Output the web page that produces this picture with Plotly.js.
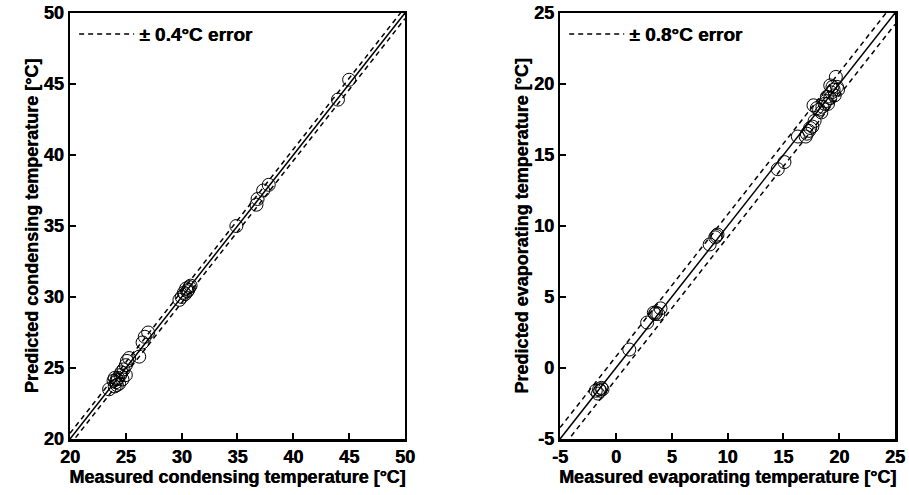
<!DOCTYPE html>
<html>
<head>
<meta charset="utf-8">
<script src="https://cdn.plot.ly/plotly-3.0.1.min.js"></script>
<style>html,body{margin:0;padding:0;background:#fff;}#chart{width:909px;height:495px;}</style>
</head>
<body>
<div id="chart"></div>
<script>
// Condensing temperature data [°C]
const condMeasured = [45.0, 44.0, 37.8, 37.3, 36.8, 36.7, 34.9,
  30.8, 30.6, 30.4, 30.2, 30.0, 29.8, 30.5, 30.7, 30.3,
  27.0, 26.7, 26.5, 26.2,
  25.3, 25.1, 25.0, 24.8, 24.6, 24.5, 24.3, 24.2, 24.1, 24.0, 23.9, 24.4, 24.2, 25.0, 24.7, 23.5, 24.0];
const condPredicted = [45.3, 43.9, 37.9, 37.5, 36.9, 36.5, 35.0,
  30.8, 30.5, 30.6, 30.3, 30.0, 29.8, 30.4, 30.7, 30.2,
  27.5, 27.2, 26.8, 25.8,
  25.7, 25.5, 25.2, 24.9, 24.7, 24.5, 24.3, 24.2, 24.0, 24.3, 24.1, 23.9, 23.8, 24.5, 24.2, 23.5, 23.7];
const condError = 0.4;
const condRange = [20, 50];

// Evaporating temperature data [°C]
const evapMeasured = [-1.5, -1.3, -1.6, -1.8, -1.4, -1.2,
  1.2,
  2.8, 3.5, 3.6, 3.4, 3.8, 4.0,
  8.4, 8.9, 9.1, 9.0,
  14.5, 15.1,
  16.3, 17.0, 17.1, 17.3, 17.4, 17.6, 17.8, 17.7, 18.2, 18.4, 18.5, 18.7, 18.8, 19.0, 19.2, 19.3, 19.5, 19.4, 19.6, 19.8, 19.7, 19.2, 19.9, 18.0, 18.9];
const evapPredicted = [-1.5, -1.4, -1.8, -1.6, -1.6, -1.5,
  1.3,
  3.2, 3.8, 3.9, 3.9, 3.8, 4.2,
  8.7, 9.2, 9.4, 9.3,
  14.0, 14.5,
  16.3, 16.3, 16.5, 16.7, 16.9, 17.0, 17.4, 18.5, 18.2, 18.0, 18.4, 18.6, 18.8, 18.6, 19.0, 19.4, 19.6, 19.8, 19.2, 19.8, 20.5, 19.9, 19.6, 18.3, 19.1];
const evapError = 0.8;
const evapRange = [-5, 25];

const tickVals1 = [20, 25, 30, 35, 40, 45, 50];
const tickText1 = ['20', '25', '30', '35', '40', '45', '50'];
const tickVals2 = [-5, 0, 5, 10, 15, 20, 25];
const tickText2 = ['-5', '0', '5', '10', '15', '20', '25'];

const FONT = "Liberation Sans, Arial, sans-serif";
const SHADOW = '0.5px 0 0 #000';
const marker = {symbol: 'circle-open', size: 13, color: '#000', line: {width: 1, color: '#000'}};
const b = s => '<b>' + s + '</b>';

function lines(range, err, xa, ya, leg) {
  return [
    {x: range, y: range, mode: 'lines', line: {color: '#000', width: 1.5}, xaxis: xa, yaxis: ya, showlegend: false, hoverinfo: 'skip'},
    {x: range, y: [range[0] + err, range[1] + err], mode: 'lines', line: {color: '#000', width: 1.5, dash: '5px,4px'}, xaxis: xa, yaxis: ya, name: b('± ' + err + '°C error'), showlegend: true, legend: leg, hoverinfo: 'skip'},
    {x: range, y: [range[0] - err, range[1] - err], mode: 'lines', line: {color: '#000', width: 1.5, dash: '5px,4px'}, xaxis: xa, yaxis: ya, showlegend: false, hoverinfo: 'skip'}
  ];
}

const data = [
  ...lines(condRange, condError, 'x', 'y', 'legend'),
  {x: condMeasured, y: condPredicted, mode: 'markers', marker: marker, xaxis: 'x', yaxis: 'y', showlegend: false},
  ...lines(evapRange, evapError, 'x2', 'y2', 'legend2'),
  {x: evapMeasured, y: evapPredicted, mode: 'markers', marker: marker, xaxis: 'x2', yaxis: 'y2', showlegend: false}
];

const tickFont = {family: FONT, size: 18, color: '#000', shadow: SHADOW};
const titleFont = {family: FONT, size: 18, color: '#000', shadow: SHADOW};
const legendFont = {family: FONT, size: 19, color: '#000', shadow: SHADOW};

function axis(range, ticks, labels, title, domain, anchor, standoff) {
  return {
    range: range, domain: domain, anchor: anchor,
    tickmode: 'array', tickvals: ticks, ticktext: labels.map(b),
    ticks: 'inside', ticklen: 6, tickwidth: 2, tickcolor: '#000',
    showline: true, linewidth: 2.5, linecolor: '#000', mirror: true,
    showgrid: false, zeroline: false,
    tickfont: tickFont,
    title: {text: b(title), font: titleFont, standoff: standoff}
  };
}

const legendStyle = {
  font: legendFont,
  bgcolor: 'rgba(0,0,0,0)', borderwidth: 0,
  xanchor: 'left', yanchor: 'top', itemwidth: 55
};

const layout = {
  width: 909, height: 495,
  margin: {l: 70, r: 14, t: 13, b: 56},
  paper_bgcolor: '#fff', plot_bgcolor: '#fff',
  xaxis: axis(condRange, tickVals1, tickText1, 'Measured condensing temperature [°C]', [0, 0.406], 'y', 2),
  yaxis: axis(condRange, tickVals1, tickText1, 'Predicted condensing temperature [°C]', [0, 1], 'x', 1),
  xaxis2: axis(evapRange, tickVals2, tickText2, 'Measured evaporating temperature [°C]', [0.594, 1], 'y2', 2),
  yaxis2: axis(evapRange, tickVals2, tickText2, 'Predicted evaporating temperature [°C]', [0, 1], 'x2', 1),
  legend: Object.assign({x: 0.005, y: 0.995}, legendStyle),
  legend2: Object.assign({x: 0.599, y: 0.995}, legendStyle)
};

Plotly.newPlot('chart', data, layout, {displayModeBar: false, staticPlot: true});
</script>
</body>
</html>
